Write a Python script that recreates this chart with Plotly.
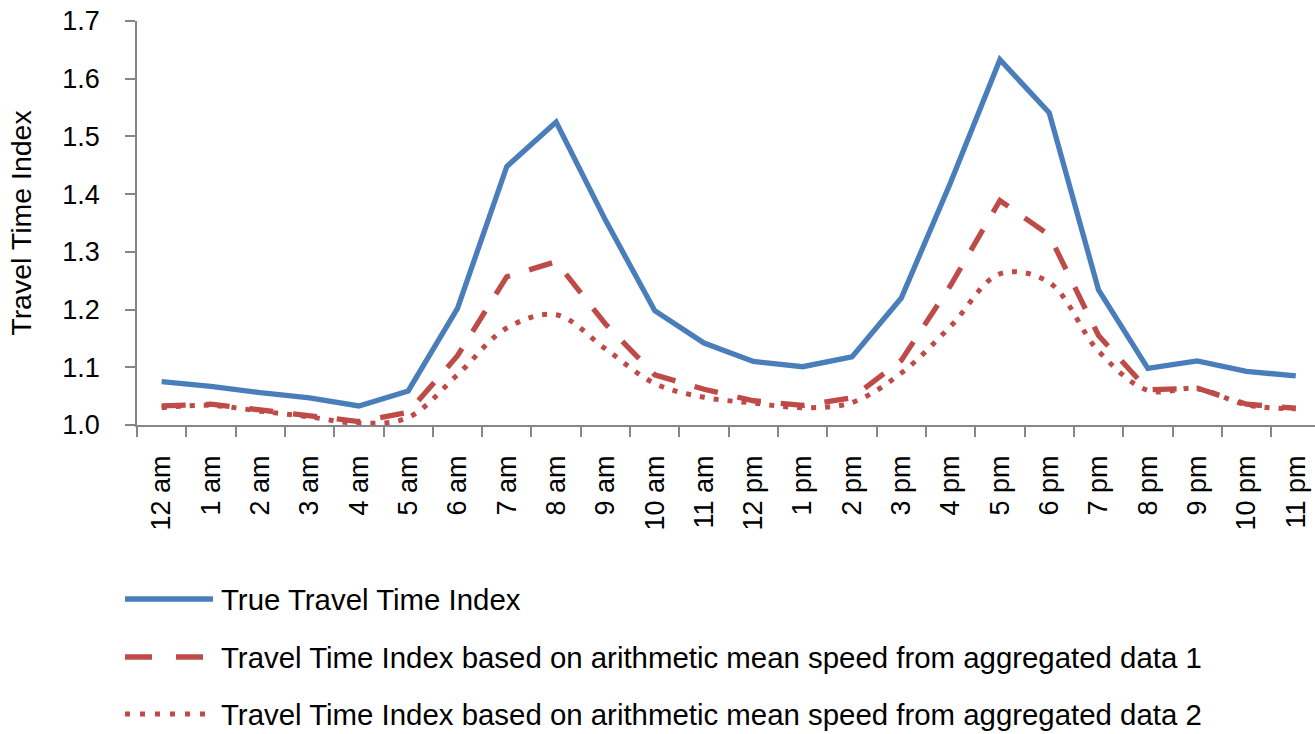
import plotly.graph_objects as go

# Hour-of-day categories
hours = ["12 am", "1 am", "2 am", "3 am", "4 am", "5 am", "6 am", "7 am", "8 am", "9 am",
         "10 am", "11 am", "12 pm", "1 pm", "2 pm", "3 pm", "4 pm", "5 pm", "6 pm", "7 pm",
         "8 pm", "9 pm", "10 pm", "11 pm"]

# Travel time index series
true_tti = [1.075, 1.067, 1.056, 1.047, 1.033, 1.059, 1.202, 1.448, 1.525, 1.355,
            1.198, 1.142, 1.110, 1.101, 1.118, 1.220, 1.420, 1.633, 1.541, 1.234,
            1.098, 1.111, 1.093, 1.085]
agg1_tti = [1.033, 1.036, 1.026, 1.016, 1.006, 1.022, 1.120, 1.257, 1.283, 1.175,
            1.087, 1.062, 1.042, 1.034, 1.047, 1.112, 1.242, 1.389, 1.329, 1.155,
            1.061, 1.064, 1.036, 1.029]
agg2_tti = [1.030, 1.034, 1.024, 1.014, 1.003, 1.013, 1.087, 1.168, 1.191, 1.132,
            1.072, 1.048, 1.038, 1.030, 1.039, 1.090, 1.171, 1.262, 1.247, 1.128,
            1.060, 1.063, 1.035, 1.028]

series_names = [
    "True Travel Time Index",
    "Travel Time Index based on arithmetic mean speed from aggregated data 1",
    "Travel Time Index based on arithmetic mean speed from aggregated data 2",
]

BLUE = "#4A7EBB"
RED = "#BE4B48"
AXIS = "#868686"
FONT = "Liberation Sans"

W, H = 1315, 734
ML, MR, MT, MB = 137, 0, 21, 309

fig = go.Figure()
fig.add_trace(go.Scatter(x=hours, y=true_tti, mode="lines", name=series_names[0],
                         line=dict(color=BLUE, width=5.3), cliponaxis=False))
fig.add_trace(go.Scatter(x=hours, y=agg1_tti, mode="lines", name=series_names[1],
                         line=dict(color=RED, width=5.3, dash="24px,20px"),
                         cliponaxis=False))
fig.add_trace(go.Scatter(x=hours, y=agg2_tti, mode="lines", name=series_names[2],
                         line=dict(color=RED, width=5, dash="5px,9px",
                                   shape="spline", smoothing=1.0), cliponaxis=False))

# Legend drawn below the chart with long line samples
plot_w = W - ML - MR
plot_h = H - MT - MB
def px_x(p):
    return (p - ML) / plot_w
def px_y(p):
    return (H - MB - p) / plot_h

legend_rows = [599.0, 657.0, 714.0]
legend_styles = [dict(color=BLUE, width=5.3),
                 dict(color=RED, width=5.3, dash="27px,24px"),
                 dict(color=RED, width=5, dash="5px,10px")]
for row_y, style, label in zip(legend_rows, legend_styles, series_names):
    fig.add_shape(type="line", xref="paper", yref="paper",
                  x0=px_x(125), x1=px_x(213), y0=px_y(row_y), y1=px_y(row_y),
                  line=style)
    fig.add_annotation(xref="paper", yref="paper", x=px_x(219), y=px_y(row_y),
                       xanchor="left", yanchor="middle", text=label, showarrow=False,
                       font=dict(family=FONT, size=29.4, color="black"))

fig.update_layout(
    width=W, height=H,
    margin=dict(l=ML, r=MR, t=MT, b=MB),
    paper_bgcolor="white", plot_bgcolor="white",
    showlegend=False,
    font=dict(family=FONT, size=27, color="black"),
)
fig.update_xaxes(
    type="category", categoryorder="array", categoryarray=hours,
    range=[-0.5, 23.39], tickson="boundaries",
    showline=True, linecolor=AXIS, linewidth=1.5,
    ticks="outside", ticklen=10, tickcolor=AXIS, tickwidth=1.5,
    tickangle=-90, ticklabelstandoff=18, showgrid=False, zeroline=False,
    tickfont=dict(family=FONT, size=27, color="black"),
)
fig.update_yaxes(
    range=[1.0, 1.7], dtick=0.1, tick0=1.0, tickformat=".1f",
    showline=True, linecolor=AXIS, linewidth=1.5,
    ticks="outside", ticklen=10, tickcolor=AXIS, tickwidth=1.5,
    ticklabelstandoff=20, showgrid=False, zeroline=False,
    tickfont=dict(family=FONT, size=27, color="black"),
    title=dict(text="Travel Time Index", standoff=22,
               font=dict(family=FONT, size=28.5, color="black")),
)

fig.write_html("out.html")
